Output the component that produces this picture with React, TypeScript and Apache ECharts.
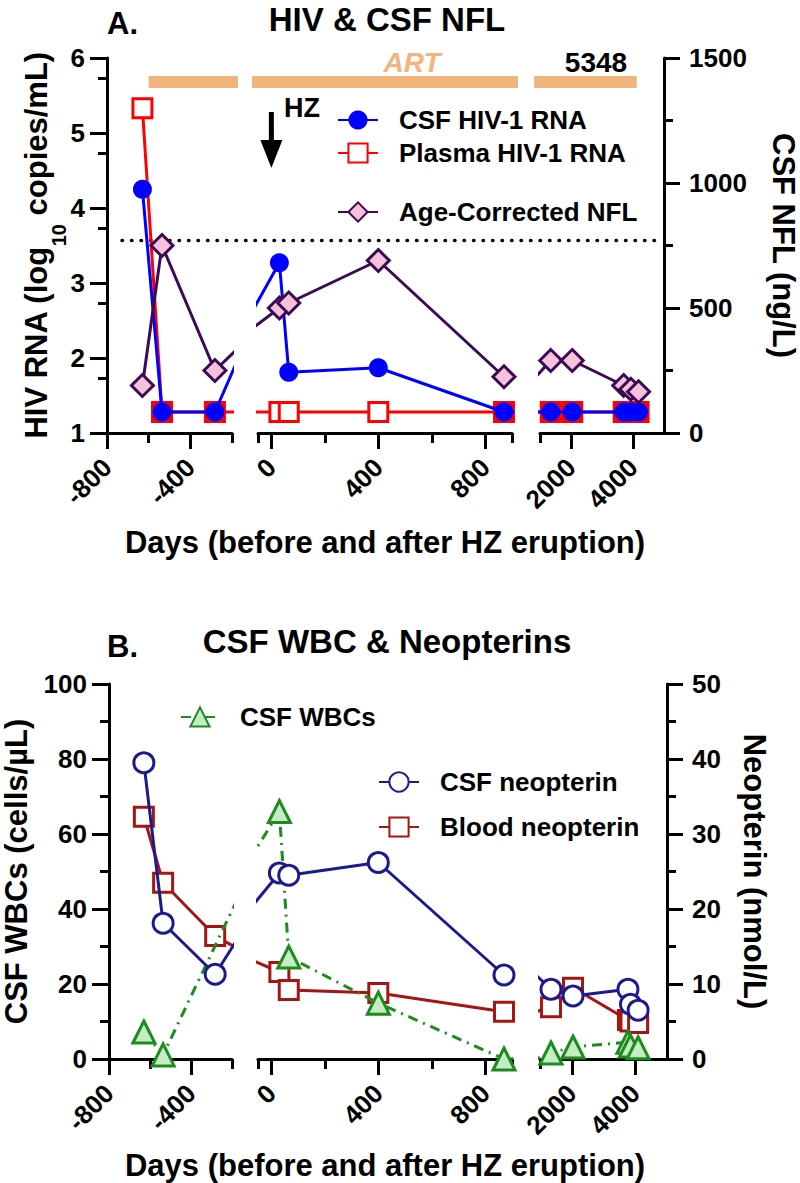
import React, { useEffect, useRef } from 'react';
import * as echarts from 'echarts';

const FONT = "'Liberation Sans', Arial, Helvetica, sans-serif";

// ---- broken x-axis segments (days) ----
const SEG_MIN = [-800, -50, 1000];
const SEG_MAX = [-200, 900, 5000];
const X_LABELS = [[-800, -400], [0, 400, 800], [2000, 4000]];
const X_MINOR = [[-600, -200], [-50, 200, 600, 900], [1000]];

// ---- Panel A: HIV RNA & NFL ----
const daysA = [-630, -536, -282, 30, 65, 400, 870, 1346, 2040, 3700, 3930, 4180];
const csfRNA = [4.25, 1.28, 1.28, 3.27, 1.81, 1.87, 1.28, 1.28, 1.28, 1.28, 1.28, 1.28];
const plasmaRNA = [5.33, 1.28, 1.28, 1.28, 1.28, 1.28, 1.28, 1.28, 1.28, 1.28, 1.28, 1.28];
const nflValues = [190, 750, 250, 500, 520, 690, 225, 290, 290, 190, 175, 165];
const NFL_CUTOFF = 770;
const RNA_MINOR_TICKS = [1.73, 2.73, 3.73, 4.73, 5.73];
const ART_START = -600;
const ART_END = 4120;
const HZ_DAY = 0;

// ---- Panel B: CSF WBC & neopterins ----
const daysB = [-630, -536, -282, 30, 65, 400, 870, 1346, 2040, 3770, 3850, 4090];
const csfNeopterin = [39.5, 18.1, 11.3, 24.8, 24.5, 26.2, 11.2, 9.3, 8.4, 9.3, 7.3, 6.5];
const bloodNeopterin = [32.3, 23.5, 16.4, 11.6, 9.2, 8.8, 6.3, 6.9, 9.5, 5.2, 5.0, 4.8];
const csfWBC: (number | null)[] = [7.2, 1.1, null, 66, 27.2, 14.9, 0, 1.6, 3.2, 4.5, 3.5, 3.0];

// ---- layout / style ----
const SEG_LEFT = [107, 258, 540];
const SEG_WIDTH = [125, 254, 127];
const PANEL_TOP = [58, 684];
const PLOT_H = 375;
const ART_LEVEL = 5.68;

const BLUE = '#0000FF';
const RED = '#FF0000';
const PURPLE = '#3C0A55';
const PINK = '#F6C2DA';
const ORANGE = '#F0B47C';
const NAVY = '#1B1B8F';
const DARKRED = '#A51515';
const GREEN = '#1E8B1E';
const LIGHTGREEN = '#C4EDC4';

const axisLineStyle = { color: '#000', width: 3 };
const tickLabel = { color: '#000', fontSize: 26, fontWeight: 'bold', fontFamily: FONT, formatter: (v: number) => String(v) };
const nameStyle = { color: '#000', fontSize: 31, fontWeight: 'bold', fontFamily: FONT };

function pair(days: number[], vals: (number | null)[]) {
  const out: number[][] = [];
  vals.forEach((v, i) => {
    if (v !== null && v !== undefined) out.push([days[i], v]);
  });
  return out;
}

function buildOption() {
  const grid: any[] = [];
  const xAxis: any[] = [];
  const yAxis: any[] = [];
  const series: any[] = [];

  for (let p = 0; p < 2; p++) {
    for (let s = 0; s < 3; s++) {
      const gi = grid.length;
      grid.push({ left: SEG_LEFT[s], top: PANEL_TOP[p], width: SEG_WIDTH[s], height: PLOT_H });
      const xi = xAxis.length;
      xAxis.push({
        type: 'value', gridIndex: gi, position: 'bottom', min: SEG_MIN[s], max: SEG_MAX[s],
        axisLine: { show: true, onZero: false, lineStyle: axisLineStyle },
        axisTick: { show: true, length: 16, lineStyle: axisLineStyle, customValues: X_LABELS[s] },
        axisLabel: { show: true, customValues: X_LABELS[s], rotate: 45, margin: 30, ...tickLabel },
        splitLine: { show: false },
        name: s === 1 ? 'Days (before and after HZ eruption)' : '',
        nameLocation: 'middle',
        nameGap: p === 0 ? 94 : 91,
        nameTextStyle: nameStyle,
        nameMoveOverlap: false,
      });
      xAxis.push({
        type: 'value', gridIndex: gi, position: 'bottom', min: SEG_MIN[s], max: SEG_MAX[s],
        axisLine: { show: false, onZero: false },
        axisTick: { show: true, length: 10, lineStyle: axisLineStyle, customValues: X_MINOR[s] },
        axisLabel: { show: false },
        splitLine: { show: false },
      });

      const yl = yAxis.length;
      const leftCfg = p === 0
        ? { min: 1, max: 6, interval: 1 }
        : { min: 0, max: 100, interval: 20 };
      yAxis.push({
        type: 'value', gridIndex: gi, position: 'left', ...leftCfg,
        show: s === 0,
        axisLine: { show: true, onZero: false, lineStyle: axisLineStyle },
        axisTick: { show: true, length: 17, lineStyle: axisLineStyle },
        minorTick: p === 1 ? { show: true, splitNumber: 2, length: 9, lineStyle: axisLineStyle } : { show: false },
        axisLabel: { ...tickLabel, margin: 22 },
        splitLine: { show: false },
        minorSplitLine: { show: false },
        name: p === 0
          ? '{a|HIV RNA (log}{s|10}{a| copies/mL)}'
          : 'CSF WBCs (cells/µL)',
        nameLocation: 'middle',
        nameGap: p === 0 ? 38 : 77,
        nameMoveOverlap: false,
        nameTextStyle: p === 0
          ? {
            ...nameStyle,
            rich: {
              a: { ...nameStyle, verticalAlign: 'top', lineHeight: 34 },
              s: { color: '#000', fontSize: 20, fontWeight: 'bold', fontFamily: FONT, verticalAlign: 'bottom', lineHeight: 48 },
            },
          }
          : nameStyle,
      });
      const yr = yAxis.length;
      const rightCfg = p === 0
        ? { min: 0, max: 1500, interval: 500 }
        : { min: 0, max: 50, interval: 10 };
      yAxis.push({
        type: 'value', gridIndex: gi, position: 'right', ...rightCfg,
        show: s === 2,
        axisLine: { show: true, onZero: false, lineStyle: axisLineStyle },
        axisTick: { show: true, length: 16, lineStyle: axisLineStyle },
        minorTick: { show: true, splitNumber: 2, length: 9, lineStyle: axisLineStyle },
        axisLabel: { ...tickLabel, margin: 25 },
        splitLine: { show: false },
        minorSplitLine: { show: false },
        name: p === 0 ? 'CSF NFL (ng/L)' : 'Neopterin (nmol/L)',
        nameLocation: 'middle',
        nameRotate: -90,
        nameGap: p === 0 ? 104 : 72,
        nameMoveOverlap: false,
        nameTextStyle: nameStyle,
      });
      if (p === 0 && s === 0) {
        yAxis.push({
          type: 'value', gridIndex: gi, position: 'left', min: 1, max: 6,
          axisLine: { show: false, onZero: false },
          axisTick: { show: true, length: 9, lineStyle: axisLineStyle, customValues: RNA_MINOR_TICKS },
          axisLabel: { show: false },
          splitLine: { show: false },
        });
      }

      if (p === 0) {
        // ART bar
        const pxPerDay = SEG_WIDTH[s] / (SEG_MAX[s] - SEG_MIN[s]);
        const ext = 6 / pxPerDay;
        const a = Math.max(ART_START, SEG_MIN[s] - ext);
        const b = Math.min(ART_END, SEG_MAX[s] + ext);
        series.push({
          type: 'line', name: 'ART', xAxisIndex: xi, yAxisIndex: yl, clip: false, silent: true,
          data: [[a, ART_LEVEL], [b, ART_LEVEL]], symbol: 'none',
          lineStyle: { color: ORANGE, width: 12, cap: 'butt' }, z: 1,
        });
        series.push({
          type: 'line', name: 'Plasma HIV-1 RNA', xAxisIndex: xi, yAxisIndex: yl,
          data: plasmaRNA.map((v, i) => ({
            value: [daysA[i], v],
            itemStyle: csfRNA[i] === v ? { color: RED } : undefined,
          })),
          symbol: 'rect', symbolSize: 19,
          itemStyle: { color: '#fff', borderColor: RED, borderWidth: 3 },
          lineStyle: { color: RED, width: 3 }, z: 3,
        });
        series.push({
          type: 'line', name: 'CSF HIV-1 RNA', xAxisIndex: xi, yAxisIndex: yl,
          data: pair(daysA, csfRNA), symbol: 'circle', symbolSize: 19,
          itemStyle: { color: BLUE, borderColor: BLUE, borderWidth: 0 },
          lineStyle: { color: BLUE, width: 3 }, z: 4,
        });
        series.push({
          type: 'line', name: 'Age-Corrected NFL', xAxisIndex: xi, yAxisIndex: yr,
          data: pair(daysA, nflValues), symbol: 'diamond', symbolSize: 22,
          itemStyle: { color: PINK, borderColor: PURPLE, borderWidth: 3 },
          lineStyle: { color: PURPLE, width: 3 }, z: 5,
        });
      } else {
        series.push({
          type: 'line', name: 'Blood neopterin', xAxisIndex: xi, yAxisIndex: yr,
          data: pair(daysB, bloodNeopterin), symbol: 'rect', symbolSize: 19,
          itemStyle: { color: '#fff', borderColor: DARKRED, borderWidth: 3 },
          lineStyle: { color: DARKRED, width: 3 }, z: 3,
        });
        series.push({
          type: 'line', name: 'CSF WBCs', xAxisIndex: xi, yAxisIndex: yl,
          data: pair(daysB, csfWBC), symbol: 'triangle', symbolSize: 22,
          itemStyle: { color: LIGHTGREEN, borderColor: GREEN, borderWidth: 3 },
          lineStyle: { color: GREEN, width: 3, type: [10, 6, 2, 6] }, z: 4,
        });
        series.push({
          type: 'line', name: 'CSF neopterin', xAxisIndex: xi, yAxisIndex: yr,
          data: pair(daysB, csfNeopterin), symbol: 'circle', symbolSize: 20,
          itemStyle: { color: '#fff', borderColor: NAVY, borderWidth: 3 },
          lineStyle: { color: NAVY, width: 3 }, z: 5,
        });
      }
    }
  }

  // overlay grid for the NFL cutoff dotted line (spans the broken axis)
  const og = grid.length;
  grid.push({ left: 122, top: PANEL_TOP[0], width: 535, height: PLOT_H });
  const ox = xAxis.length;
  xAxis.push({ type: 'value', gridIndex: og, min: 0, max: 1, show: false });
  const oy = yAxis.length;
  yAxis.push({ type: 'value', gridIndex: og, min: 0, max: 1500, show: false });
  series.push({
    type: 'line', name: 'cutoff', xAxisIndex: ox, yAxisIndex: oy, silent: true,
    data: [[0, NFL_CUTOFF], [1, NFL_CUTOFF]], symbol: 'none',
    lineStyle: { color: '#000', width: 3.5, type: [0.5, 9], cap: 'round' }, z: 2,
  });

  const legendText = { color: '#000', fontSize: 26, fontWeight: 'bold', fontFamily: FONT, lineHeight: 26, padding: [0, 0, 0, 16] };
  const legendBase = { orient: 'vertical', padding: 0, itemWidth: 40, itemHeight: 24, textStyle: legendText, selectedMode: false };
  const legend = [
    { ...legendBase, data: ['CSF HIV-1 RNA', 'Plasma HIV-1 RNA'], left: 337, top: 107, itemGap: 7 },
    { ...legendBase, data: ['Age-Corrected NFL'], left: 337, top: 199 },
    { ...legendBase, data: ['CSF WBCs'], left: 180, top: 704, itemWidth: 38 },
    { ...legendBase, data: ['CSF neopterin', 'Blood neopterin'], left: 378, top: 769, itemGap: 19 },
  ];

  // HZ arrow x from segment-2 scale
  const hzX = SEG_LEFT[1] + (HZ_DAY - SEG_MIN[1]) / (SEG_MAX[1] - SEG_MIN[1]) * SEG_WIDTH[1];
  const titleFont = { fill: '#000', fontSize: 33, fontWeight: 'bold', fontFamily: FONT };
  const graphic = [
    { type: 'text', x: 107, y: 23, style: { text: 'A.', ...titleFont, fontSize: 31, align: 'left', verticalAlign: 'middle' } },
    { type: 'text', x: 387, y: 19, style: { text: 'HIV & CSF NFL', ...titleFont, align: 'center', verticalAlign: 'middle' } },
    { type: 'text', x: 412, y: 62, style: { text: 'ART', fill: ORANGE, fontSize: 28, fontWeight: 'bold', fontStyle: 'italic', fontFamily: FONT, align: 'center', verticalAlign: 'middle' } },
    { type: 'text', x: 596, y: 62, style: { text: '5348', fill: '#000', fontSize: 28, fontWeight: 'bold', fontFamily: FONT, align: 'center', verticalAlign: 'middle' } },
    { type: 'text', x: 302, y: 108, style: { text: 'HZ', fill: '#000', fontSize: 27, fontWeight: 'bold', fontFamily: FONT, align: 'center', verticalAlign: 'middle' } },
    { type: 'line', shape: { x1: hzX, y1: 112, x2: hzX, y2: 144 }, style: { stroke: '#000', lineWidth: 5 } },
    { type: 'polygon', shape: { points: [[hzX - 11, 140], [hzX + 11, 140], [hzX, 168]] }, style: { fill: '#000' } },
    { type: 'text', x: 107, y: 646, style: { text: 'B.', ...titleFont, fontSize: 31, align: 'left', verticalAlign: 'middle' } },
    { type: 'text', x: 387, y: 641, style: { text: 'CSF WBC & Neopterins', ...titleFont, align: 'center', verticalAlign: 'middle' } },
  ];

  return {
    animation: false,
    backgroundColor: '#fff',
    textStyle: { fontFamily: FONT },
    grid, xAxis, yAxis, series, legend, graphic,
  };
}

export default function App() {
  const ref = useRef<HTMLDivElement>(null);
  useEffect(() => {
    document.body.style.margin = '0';
    if (!ref.current) return;
    const chart = echarts.init(ref.current, null, { renderer: 'svg' });
    chart.setOption(buildOption() as any);
    return () => chart.dispose();
  }, []);
  return <div ref={ref} style={{ width: 800, height: 1183 }} />;
}
